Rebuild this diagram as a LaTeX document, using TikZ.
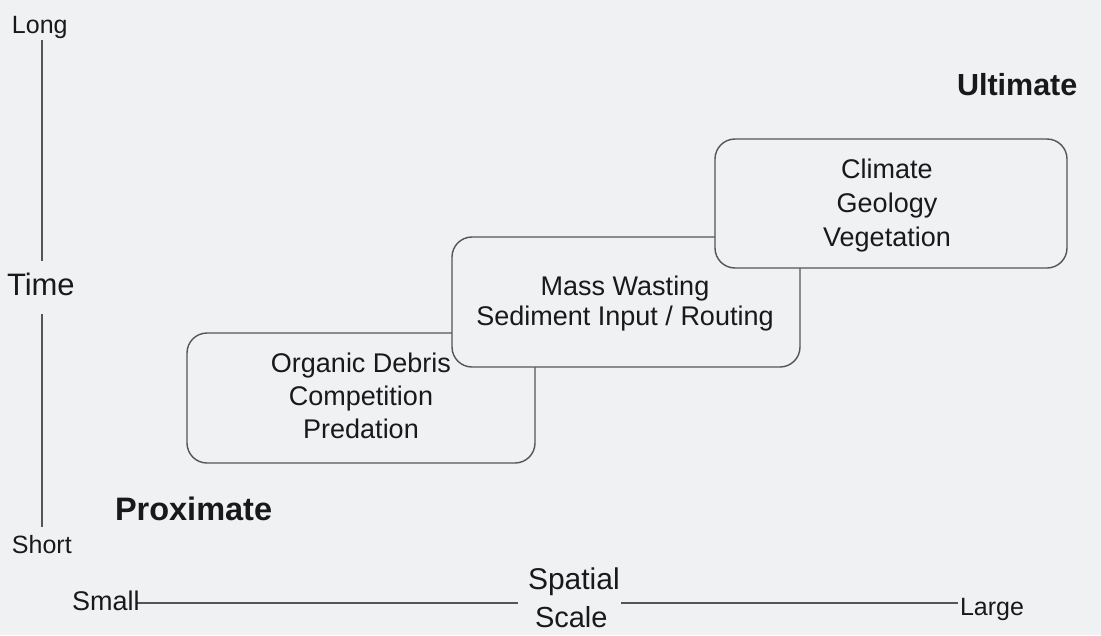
\documentclass[tikz,border=0pt]{standalone}
\usepackage{fontspec}
\setmainfont{Liberation Sans}
\definecolor{bgc}{RGB}{239,241,243}
\definecolor{linec}{RGB}{85,85,85}
\definecolor{txtc}{RGB}{25,25,25}
\newcommand{\fsz}[1]{\fontsize{#1}{#1}\selectfont}
\tikzset{
  axisline/.style={draw=linec, line width=1.4pt},
  factorbox/.style={draw=linec, line width=1.4pt, fill=bgc, rounded corners=20pt,
    inner sep=0pt, outer sep=0pt},
  lbl/.style={inner sep=0pt, outer sep=0pt, text=txtc, anchor=base west},
  boxtxt/.style={inner sep=0pt, outer sep=0pt, text=txtc, anchor=base, font=\fsz{27}},
}
\begin{document}
\begin{tikzpicture}[x=1pt, y=-1pt]
\fill[bgc] (0,0) rectangle (1101,635);
\useasboundingbox (0,0) rectangle (1101,635);

% axes
\coordinate (v1) at (42,40);
\coordinate (v2) at (42,261);
\coordinate (v3) at (42,314);
\coordinate (v4) at (42,527);
\coordinate (h1) at (137,603);
\coordinate (h2) at (518,603);
\coordinate (h3) at (621,603);
\coordinate (h4) at (958,603);
\draw[axisline] (v1) -- (v2);
\draw[axisline] (v3) -- (v4);
\draw[axisline] (h1) -- (h2);
\draw[axisline] (h3) -- (h4);

% axis labels
\node[lbl, font=\fsz{25}] (long) at (12,33) {Long};
\node[lbl, font=\fsz{31}] (time) at (7,295) {Time};
\node[lbl, font=\fsz{25}] (short) at (12,553) {Short};
\node[lbl, font=\fsz{27}] (small) at (72,610) {Small};
\node[lbl, font=\fsz{25}] (large) at (960,615) {Large};
\node[lbl, font=\fsz{30}] (spatial) at (528,589) {Spatial};
\node[lbl, font=\fsz{29}] (scale) at (535,627) {Scale};
\node[lbl, font=\bfseries\fsz{32.5}] (proximate) at (115,520) {Proximate};
\node[lbl, font=\bfseries\fsz{30.5}] (ultimate) at (957,95) {Ultimate};

% boxes
\node[factorbox, minimum width=348pt, minimum height=130pt] (b1) at (361,398) {};
\node[factorbox, minimum width=348pt, minimum height=130pt] (b2) at (626,302) {};
\node[factorbox, minimum width=352pt, minimum height=129pt] (b3) at (891,203.5) {};

% box texts
\node[boxtxt] (t11) at (361,372) {Organic Debris};
\node[boxtxt] (t12) at (361,405) {Competition};
\node[boxtxt] (t13) at (361,438) {Predation};
\node[boxtxt] (t21) at (625,295) {Mass Wasting};
\node[boxtxt] (t22) at (625,325) {Sediment Input / Routing};
\node[boxtxt] (t31) at (887,178) {Climate};
\node[boxtxt] (t32) at (887,212) {Geology};
\node[boxtxt] (t33) at (887,246) {Vegetation};
\end{tikzpicture}
\end{document}
